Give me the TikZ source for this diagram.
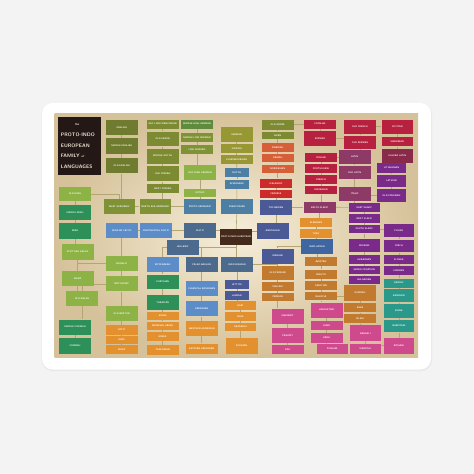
\documentclass[tikz,border=0pt]{standalone}
\usepackage{tikz}
\usetikzlibrary{positioning,backgrounds}

\definecolor{paper}{HTML}{F3F3F3}
\definecolor{cream}{HTML}{F6EEDA}
\definecolor{tan}{HTML}{D6C29A}
\definecolor{linec}{HTML}{B3A574}
\definecolor{titlec}{HTML}{231815}
\definecolor{titletext}{HTML}{EEE6D6}
\definecolor{piebrown}{HTML}{45291A}
\definecolor{olivedk}{HTML}{6F7B2E}
\definecolor{olivebox}{HTML}{7C8A32}
\definecolor{mossbox}{HTML}{5E8C3C}
\definecolor{oliveg}{HTML}{7F9236}
\definecolor{limebox}{HTML}{8DB245}
\definecolor{khaki}{HTML}{979733}
\definecolor{steel}{HTML}{4D7FA5}
\definecolor{slate}{HTML}{4B6A8D}
\definecolor{bluebox}{HTML}{5C8DC8}
\definecolor{indigo}{HTML}{4B5A96}
\definecolor{navy}{HTML}{3F66A0}
\definecolor{greenbox}{HTML}{2E9059}
\definecolor{orangebox}{HTML}{E3902F}
\definecolor{ochre}{HTML}{C27A2F}
\definecolor{redbox}{HTML}{CC2B2B}
\definecolor{vermil}{HTML}{D65F38}
\definecolor{crimson}{HTML}{B7213F}
\definecolor{maroon}{HTML}{8A2A4A}
\definecolor{plum}{HTML}{8D3B66}
\definecolor{purplebox}{HTML}{7A2B8A}
\definecolor{tealbox}{HTML}{2B998A}
\definecolor{pinkbox}{HTML}{CF4A8D}

\begin{document}
\begin{tikzpicture}[x=1pt,y=-1pt,
    lang/.style={anchor=north west,inner sep=0pt,minimum width=31.6pt,
      minimum height=15pt,text=white,
      font=\sffamily\bfseries\fontsize{2.3}{2.6}\selectfont},
    ht/.style={minimum height=#1pt},
    wd/.style={minimum width=#1pt},
    titlebox/.style={anchor=north west,fill=titlec,text=titletext,
      minimum width=43.7pt,minimum height=58.3pt,inner sep=0pt,
      text width=37pt,align=left,
      font=\sffamily\bfseries\fontsize{5}{10.6}\selectfont},
    link/.style={draw=linec,line width=0.6pt},
    hv/.style={to path={-| (\tikztotarget)}},
    vh/.style={to path={|- (\tikztotarget)}}]
    \useasboundingbox (0,0) rectangle (474,474);

    % title and root
    \node[titlebox] (title) at (57.3,116.7)
      {\hspace*{14pt}{\fontsize{3}{3}\selectfont\itshape the}\\\mbox{PROTO-INDO}\\EUROPEAN\\FAMILY {\fontsize{3}{3}\selectfont\itshape of}\\LANGUAGES};
    \node[lang,fill=piebrown,ht=15.3] (pie) at (220,229) {PROTO-INDO-EUROPEAN};

    % germanic
    \node[lang,fill=olivedk,ht=15.7] (eng)  at (105.7,119.3)     {ENGLISH};
    \node[lang,fill=olivedk,ht=15.7] (meng) [below=2.7pt of eng] {MIDDLE ENGLISH};
    \node[lang,fill=olivedk,ht=15.7] (oeng) [below=3.3pt of meng] {OLD ENGLISH};
    \node[lang,fill=olivebox,ht=9]    (olfr)  at (146.7,119.3)      {OLD LOW FRANCONIAN};
    \node[lang,fill=olivebox,ht=14.7] (osax)  [below=2.7pt of olfr] {OLD SAXON};
    \node[lang,fill=olivebox,ht=15]   (mdut)  [below=2pt of osax]   {MIDDLE DUTCH};
    \node[lang,fill=olivebox,ht=15]   (ofris) [below=2.3pt of mdut] {OLD FRISIAN};
    \node[lang,fill=olivebox,ht=8.7]  (fris)  [below=2.3pt of ofris] {WEST FRISIAN};
    \node[lang,fill=mossbox,ht=9] (mhg) at (181,119.3)          {MIDDLE HIGH GERMAN};
    \node[lang,fill=oliveg,ht=9]  (mlg) at (181,132.7)          {MIDDLE LOW GERMAN};
    \node[lang,fill=oliveg,ht=9]  (lg)  [below=2.6pt of mlg]    {LOW GERMAN};
    \node[lang,fill=limebox,ht=15]  (ohg)  at (184,165)         {OLD HIGH GERMAN};
    \node[lang,fill=limebox,ht=8.3] (goth) at (184,188.7)       {GOTHIC};
    \node[lang,fill=khaki,ht=15]  (ger) at (220.7,126.7)        {GERMAN};
    \node[lang,fill=khaki,ht=8.6] (yid) [below=2pt of ger]      {YIDDISH};
    \node[lang,fill=khaki,ht=8.7] (lux) [below=2pt of yid]      {LUXEMBOURGISH};
    \node[lang,fill=steel,wd=24.7,ht=9.3] (dut) at (224.3,167.7) {DUTCH};
    \node[lang,fill=steel,wd=24.7,ht=9]   (afr) [below=2pt of dut] {AFRIKAANS};
    \node[lang,fill=oliveg,ht=15] (wgmc) at (103.3,199)         {WEST GERMANIC};
    \node[lang,fill=oliveg,ht=15] (egmc) at (139.3,199)         {NORTH SEA GERMANIC};
    \node[lang,fill=steel,ht=15]  (pgmc) at (184,199)           {PROTO-GERMANIC};
    \node[lang,fill=steel,ht=15]  (frk)  at (221,199)           {FRANCONIAN};

    % north germanic
    \node[lang,fill=olivebox,ht=10] (n1) at (261.7,119.3)       {OLD NORSE};
    \node[lang,fill=olivebox,ht=7.3] (n2) [below=1.7pt of n1]   {NORN};
    \node[lang,fill=vermil,ht=9]   (n3) [below=3.4pt of n2]     {SWEDISH};
    \node[lang,fill=vermil,ht=8.7] (n4) [below=1.6pt of n3]     {DANISH};
    \node[lang,fill=vermil,ht=8.3] (n5) [below=1.7pt of n4]     {NORWEGIAN};
    \node[lang,fill=redbox,ht=9.4] (n6) at (260,178.3)          {ICELANDIC};
    \node[lang,fill=redbox,ht=7.3] (n7) [below=2pt of n6]       {FAROESE};
    \node[lang,fill=indigo,ht=14.3] (toch) at (260,200)         {TOCHARIAN};
    \node[lang,fill=indigo,ht=15.3] (anat) at (256.7,223)       {ANATOLIAN};

    % celtic
    \node[lang,fill=bluebox,ht=15.4] (insc) at (105.7,222.3)    {INSULAR CELTIC};
    \node[lang,fill=bluebox,ht=15.4] (cont) at (140,222.3)      {CONTINENTAL CELTIC};
    \node[lang,fill=slate,ht=15.4]   (celt) at (184,222.3)      {CELTIC};
    \node[lang,fill=limebox,ht=14.3]  (oir)  at (59,186.7)      {OLD IRISH};
    \node[lang,fill=greenbox,ht=14.7] (mir)  [below=3.3pt of oir] {MIDDLE IRISH};
    \node[lang,fill=greenbox,ht=15.4] (iri)  [below=3.3pt of mir] {IRISH};
    \node[lang,fill=limebox,ht=15.3]  (gael) at (61.7,244)      {SCOTTISH GAELIC};
    \node[lang,fill=limebox,ht=15]    (manx) at (61.7,270.7)    {MANX};
    \node[lang,fill=limebox,ht=14.6]  (owel) at (66,290.7)      {OLD WELSH};
    \node[lang,fill=greenbox,ht=15]   (mcor) at (59,319.3)      {MIDDLE CORNISH};
    \node[lang,fill=greenbox,ht=15.6] (cor)  [below=3.4pt of mcor] {CORNISH};
    \node[lang,fill=limebox,ht=15] (goid) at (105.7,255.7)      {GOIDELIC};
    \node[lang,fill=limebox,ht=15] (bryt) [below=5pt of goid]   {BRYTHONIC};
    \node[lang,fill=limebox,ht=15] (obre) at (105.7,306)        {OLD BRETON};

    % hellenic and others
    \node[lang,fill=orangebox,ht=9.3] (attic) at (105.7,325)    {ATTIC};
    \node[lang,fill=orangebox,ht=8.3] (ionic) [below=0.7pt of attic] {IONIC};
    \node[lang,fill=orangebox,ht=9]   (doric) [below=1pt of ionic] {DORIC};
    \node[lang,fill=orangebox,ht=8.3] (koine) at (146.7,311.7)  {KOINE};
    \node[lang,fill=orangebox,ht=8]   (medg)  [below=1pt of koine] {MEDIEVAL GREEK};
    \node[lang,fill=orangebox,ht=9]   (grk)   [below=2pt of medg] {GREEK};
    \node[lang,fill=orangebox,ht=10]  (tsak)  [below=3.3pt of grk] {TSAKONIAN};
    \node[lang,fill=slate,ht=15]     (hell)  at (166.7,239.3)   {HELLENIC};
    \node[lang,fill=bluebox,ht=15]   (myc)   at (146.7,256.7)   {MYCENAEAN};
    \node[lang,fill=greenbox,ht=14.3] (phry) [below=2.3pt of myc] {PHRYGIAN};
    \node[lang,fill=greenbox,ht=15]  (thrac) at (146.7,295)     {THRACIAN};
    \node[lang,fill=slate,ht=15]     (palb)  at (185.7,256.7)   {PALEO-BALKAN};
    \node[lang,fill=bluebox,ht=15]   (carm)  at (185.7,281)     {CLASSICAL ARMENIAN};
    \node[lang,fill=bluebox,ht=15]   (arme)  [below=4.7pt of carm] {ARMENIAN};
    \node[lang,fill=orangebox,ht=15] (warm)  [below=4.3pt of arme] {WESTERN ARMENIAN};
    \node[lang,fill=orangebox,ht=10] (earm)  at (185.7,343.3)   {EASTERN ARMENIAN};

    % indo-iranian
    \node[lang,fill=slate,ht=15]  (indir) at (221,256.7)        {INDO-IRANIAN};
    \node[lang,fill=indigo,wd=24.7,ht=9]   (hitt) at (224.3,280)  {HITTITE};
    \node[lang,fill=indigo,wd=24.7,ht=8.3] (luw)  [below=1.7pt of hitt] {LUWIAN};
    \node[lang,fill=orangebox,ht=9]    (dari) at (224.3,301)    {DARI};
    \node[lang,fill=orangebox,ht=8.3]  (taj)  [below=1.7pt of dari] {TAJIK};
    \node[lang,fill=orangebox,ht=8.3]  (haz)  [below=1.7pt of taj] {HAZARAGI};
    \node[lang,fill=orangebox,ht=15.6] (sogd) at (225.7,337.7)  {SOGDIAN};
    \node[lang,fill=indigo,ht=15] (iran)  at (261.7,248.3)      {IRANIAN};
    \node[lang,fill=navy,ht=15]   (indar) at (301,239)          {INDO-ARYAN};
    \node[lang,fill=orangebox,ht=9] (alb)  at (300,217.7)       {ALBANIAN};
    \node[lang,fill=orangebox,ht=9] (tosk) [below=1.6pt of alb] {TOSK};
    \node[lang,fill=ochre,ht=14.3] (opers) at (261.7,265.7)     {OLD PERSIAN};
    \node[lang,fill=ochre,ht=8.3]  (pahl)  [below=1.7pt of opers] {PAHLAVI};
    \node[lang,fill=ochre,ht=8.3]  (pers)  [below=1.7pt of pahl] {PERSIAN};
    \node[lang,fill=ochre,ht=9]    (aves)  at (305,256.7)       {AVESTAN};
    \node[lang,fill=ochre,ht=9.3]  (pash)  [below=3.3pt of aves] {PASHTO};
    \node[lang,fill=ochre,ht=9]    (osset) [below=1.7pt of pash] {OSSETIAN};
    \node[lang,fill=ochre,ht=8.3]  (bal)   [below=1.7pt of osset] {BALOCHI};
    \node[lang,fill=ochre,ht=15.7] (kurd)   at (344,285)        {KURDISH};
    \node[lang,fill=ochre,ht=9.4]  (zaza)   [below=1.6pt of kurd] {ZAZA};
    \node[lang,fill=ochre,ht=9]    (gilaki) [below=1.6pt of zaza] {GILAKI};
    \node[lang,fill=pinkbox,ht=15]   (sansk) at (271.7,308.3)   {SANSKRIT};
    \node[lang,fill=pinkbox,ht=14.6] (prak)  [below=4.4pt of sansk] {PRAKRIT};
    \node[lang,fill=pinkbox,ht=9]    (pali)  [below=2pt of prak] {PALI};
    \node[lang,fill=pinkbox,ht=15]   (hindu) at (310.7,302.3)   {HINDUSTANI};
    \node[lang,fill=pinkbox,ht=8.3]  (hindi) [below=3.4pt of hindu] {HINDI};
    \node[lang,fill=pinkbox,ht=9.4]  (urdu)  [below=3.3pt of hindi] {URDU};
    \node[lang,fill=pinkbox,wd=30.6,ht=10] (punj) at (316.7,343.3) {PUNJABI};
    \node[lang,fill=pinkbox,ht=16]   (benga) at (349.3,325)     {BENGALI};
    \node[lang,fill=pinkbox,ht=10]   (mara)  [below=2.3pt of benga] {MARATHI};
    \node[lang,fill=tealbox,wd=29.3,ht=9]    (dard)  at (384,278.3) {DARDIC};
    \node[lang,fill=tealbox,wd=29.3,ht=13]   (kash)  [below=1.4pt of dard] {KASHMIRI};
    \node[lang,fill=tealbox,wd=29.3,ht=13.4] (shina) [below=1.6pt of kash] {SHINA};
    \node[lang,fill=tealbox,wd=29.3,ht=12.7] (nuri)  [below=1.6pt of shina] {NURISTANI};
    \node[lang,fill=pinkbox,wd=29.3,ht=15.6] (romani) at (384,337.7) {ROMANI};

    % italic
    \node[lang,fill=crimson,ht=9]    (cat)  at (304,119.3)      {CATALAN};
    \node[lang,fill=crimson,ht=14.7] (spa)  [below=2pt of cat]  {SPANISH};
    \node[lang,fill=crimson,ht=9.4]  (ita)  at (305,152.3)      {ITALIAN};
    \node[lang,fill=crimson,ht=8.6]  (port) [below=2pt of ita]  {PORTUGUESE};
    \node[lang,fill=crimson,ht=8.7]  (fren) [below=1.7pt of port] {FRENCH};
    \node[lang,fill=crimson,ht=8.7]  (rom)  [below=1.6pt of fren] {ROMANIAN};
    \node[lang,fill=crimson,ht=14]   (ofr)  at (344,119.3)      {OLD FRENCH};
    \node[lang,fill=crimson,ht=13.3] (ospa) [below=1.7pt of ofr] {OLD SPANISH};
    \node[lang,fill=crimson,ht=14]   (occ)  at (381.3,119.3)    {OCCITAN};
    \node[lang,fill=crimson,ht=9]    (sard) [below=3.4pt of occ] {SARDINIAN};
    \node[lang,fill=maroon,ht=14]    (vlat) [below=2pt of sard] {VULGAR LATIN};
    \node[lang,fill=plum,ht=13.3] (lat)  at (338.7,150)         {LATIN};
    \node[lang,fill=plum,ht=13.3] (olat) [below=1.7pt of lat]   {OLD LATIN};
    \node[lang,fill=plum,ht=14]   (ital) at (338.7,186.7)       {ITALIC};

    % balto-slavic
    \node[lang,fill=purplebox,wd=29.3,ht=10.4] (lith) at (376.7,162.3) {LITHUANIAN};
    \node[lang,fill=purplebox,wd=29.3,ht=12]   (latv) [below=1.3pt of lith] {LATVIAN};
    \node[lang,fill=purplebox,wd=29.3,ht=13.3] (opru) [below=1.7pt of latv] {OLD PRUSSIAN};
    \node[lang,fill=plum,wd=32.4,ht=10.6] (bsl) at (303.3,201.7) {BALTO-SLAVIC};
    \node[lang,fill=purplebox,ht=9]   (es) at (348.3,202.7)     {EAST SLAVIC};
    \node[lang,fill=purplebox,ht=9]   (ws) [below=1.6pt of es]  {WEST SLAVIC};
    \node[lang,fill=purplebox,ht=8.6] (ss) [below=1.4pt of ws]  {SOUTH SLAVIC};
    \node[lang,fill=purplebox,wd=29.3,ht=13.3] (pol)  at (384,223.7) {POLISH};
    \node[lang,fill=purplebox,wd=29.3,ht=12.7] (cze)  [below=2pt of pol] {CZECH};
    \node[lang,fill=purplebox,wd=29.3,ht=9]    (slk)  [below=2pt of cze] {SLOVAK};
    \node[lang,fill=purplebox,wd=29.3,ht=9.4]  (sorb) [below=1.6pt of slk] {SORBIAN};
    \node[lang,fill=purplebox,ht=13.4] (rus) at (348.3,238.3)   {RUSSIAN};
    \node[lang,fill=purplebox,ht=9]    (ukr) [below=2.6pt of rus] {UKRAINIAN};
    \node[lang,fill=purplebox,ht=8.6]  (sbc) [below=1.4pt of ukr] {SERBO-CROATIAN};
    \node[lang,fill=purplebox,ht=7.6]  (bul) [below=1.2pt of sbc] {BULGARIAN};

    \begin{scope}[on background layer,every edge/.style={link}]
        \fill[paper] (0,0) rectangle (474,474);
        \fill[black!9,rounded corners=11pt] (41.5,103.5) rectangle (432,371);
        \fill[white,rounded corners=10.5pt] (42,103) rectangle (431,369.5);
        \shade[inner color=cream,outer color=tan] (54.5,113.5) rectangle (418,357);

        \path (eng) edge (meng) (meng) edge (oeng)
        (oeng) edge (oeng |- wgmc.north)
        (olfr) edge (osax) (osax) edge (mdut) (mdut) edge (ofris) (ofris) edge (fris)
        (fris) edge (fris |- egmc.north)
        (wgmc) edge (egmc) (egmc) edge (pgmc)
        (mhg) edge (mlg) (mlg) edge (lg) (lg) edge (lg |- ohg.north)
        (ohg) edge (goth) (goth) edge (pgmc)
        (ger) edge (yid) (yid) edge (lux) (lux) edge (dut) (dut) edge (afr)
        (afr) edge (frk) (frk) edge (pie)
        (n1) edge (n2) (n2) edge (n3) (n3) edge (n4) (n4) edge (n5)
        (n5) edge (n5 |- n6.north) (n6) edge (n7) (n7) edge (toch)
        (toch) edge (toch |- anat.north) (anat) edge (anat -| pie.east)
        (insc) edge (cont) (cont) edge (celt) (celt) edge (celt -| pie.west)
        (insc) edge (goid) (goid) edge (bryt) (bryt) edge (obre)
        (obre) edge (attic) (attic) edge (ionic) (ionic) edge (doric)
        (oir) edge (mir) (mir) edge (iri) (iri) edge (iri |- gael.north)
        (gael) edge (manx) (manx) edge (manx |- owel.north)
        (owel) edge (owel |- mcor.north) (mcor) edge (cor)
        (goid) edge[hv] (gael) (bryt) edge[hv] (owel) (oir) edge[hv] (wgmc)
        (pie) edge[vh] (hell) (hell) edge[hv] (myc) (myc) edge (phry)
        (phry) edge (thrac) (thrac) edge (koine) (koine) edge (medg)
        (medg) edge (grk) (grk) edge (tsak)
        (palb) edge[vh] (hell) (palb) edge (carm) (carm) edge (arme)
        (arme) edge (warm) (warm) edge (earm)
        (pie) edge (pie |- indir.north) (indir) edge (indir |- hitt.north)
        (hitt) edge (luw) (luw) edge (luw |- dari.north) (dari) edge (taj)
        (taj) edge (haz) (haz) edge (haz |- sogd.north)
        (iran) edge[vh] (indir) (iran) edge (opers) (opers) edge (pahl)
        (pahl) edge (pers) (pers) edge (pers |- sansk.north)
        (sansk) edge (prak) (prak) edge (pali)
        (indar) edge[hv] (iran) (indar) edge (indar |- aves.north)
        (aves) edge (pash) (pash) edge (osset) (osset) edge (bal)
        (bal) edge (bal |- hindu.north) (hindu) edge (hindi) (hindi) edge (urdu)
        (urdu) edge (urdu |- punj.north)
        (bal) edge (bal -| kurd.west) (kurd) edge (zaza) (zaza) edge (gilaki)
        (gilaki) edge (gilaki |- benga.north) (benga) edge (mara)
        (romani) edge (romani -| mara.east)
        (dard) edge (kash) (kash) edge (shina) (shina) edge (nuri)
        (nuri) edge (nuri |- romani.north) (sorb) edge (sorb |- dard.north)
        (bsl) edge (es) (es) edge (ws) (ws) edge (ss) (ss) edge (ss |- rus.north)
        (rus) edge (ukr) (ukr) edge (sbc) (sbc) edge (bul)
        (ss) edge (ss -| pol.west) (pol) edge (cze) (cze) edge (slk) (slk) edge (sorb)
        (bsl) edge (bsl |- alb.north) (alb) edge (tosk) (tosk) edge (tosk |- indar.north)
        (ital) edge (ital |- es.north) (lat) edge (olat) (olat) edge (ital)
        (lith) edge (latv) (latv) edge (opru) (opru) edge (opru -| ital.east)
        (vlat) edge (vlat |- lith.north) (occ) edge (sard) (sard) edge (vlat)
        (ofr) edge (ospa) (ospa) edge (ospa |- lat.north)
        (cat) edge (spa) (spa) edge (spa -| ospa.west)
        (ita) edge (port) (port) edge (fren) (fren) edge (rom)
        (rom) edge (rom |- bsl.north) (ita) edge (ita -| lat.west)
        (ofr) edge (ofr -| occ.west) (n1) edge (n1 -| cat.west)
        (toch) edge (toch -| bsl.west);
    \end{scope}
\end{tikzpicture}
\end{document}
